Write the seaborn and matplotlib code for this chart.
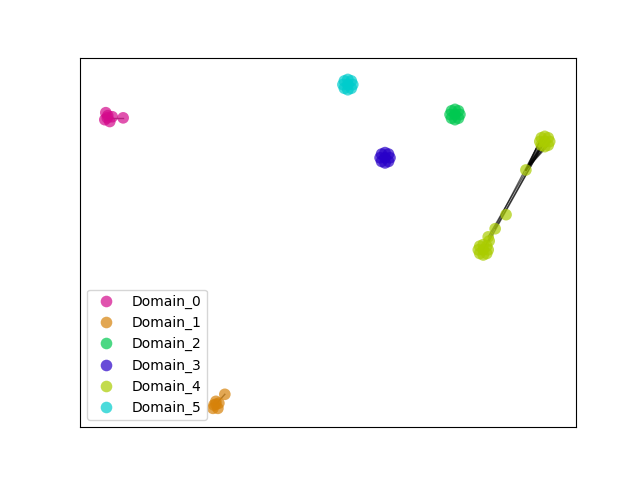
import matplotlib
matplotlib.use("Agg")
import matplotlib.pyplot as plt
import pandas as pd
import seaborn as sns

# node positions (layout units, 0-100)
d0_x = [5.2, 5.0, 6.0, 5.6, 6.5, 5.5, 8.7]
d0_y = [85.1, 83.2, 82.7, 84.3, 84.0, 83.7, 83.7]
d1_x = [27.0, 26.8, 27.8, 27.4, 28.0, 27.4, 29.2]
d1_y = [6.0, 5.1, 5.1, 7.0, 6.5, 6.2, 8.9]
d2_x = [75.6, 76.6, 76.3, 75.6, 74.9, 74.6, 74.9, 75.6, 76.3]
d2_y = [84.6, 84.6, 85.6, 86.0, 85.6, 84.6, 83.6, 83.2, 83.6]
d3_x = [61.5, 62.5, 62.2, 61.5, 60.8, 60.5, 60.8, 61.5, 62.2]
d3_y = [72.9, 72.9, 73.9, 74.3, 73.9, 72.9, 71.9, 71.5, 71.9]
d5_x = [54.0, 55.0, 54.7, 54.0, 53.3, 53.0, 53.3, 54.0, 54.7]
d5_y = [92.7, 92.7, 93.7, 94.1, 93.7, 92.7, 91.7, 91.3, 91.7]
d4_top_x = [93.7, 94.7, 94.4, 93.7, 93.0, 92.7, 93.0, 93.7, 94.4]
d4_top_y = [77.3, 77.3, 78.3, 78.7, 78.3, 77.3, 76.3, 75.9, 76.3]
d4_mid_x = [89.9, 85.9, 83.7, 82.3]
d4_mid_y = [69.6, 57.5, 53.7, 51.5]
d4_bot_x = [81.3, 82.3, 82.0, 81.3, 80.6, 80.3, 80.6, 81.3, 82.0, 82.5]
d4_bot_y = [48.0, 48.0, 49.0, 49.4, 49.0, 48.0, 47.0, 46.6, 47.0, 50.4]

domains = ["Domain_0", "Domain_1", "Domain_2", "Domain_3", "Domain_4", "Domain_5"]
colors = ["#d40a8c", "#d6820a", "#00c850", "#2800c8", "#aacc00", "#00cccc"]

d4_x = d4_top_x + d4_mid_x + d4_bot_x
d4_y = d4_top_y + d4_mid_y + d4_bot_y
xs = [d0_x, d1_x, d2_x, d3_x, d4_x, d5_x]
ys = [d0_y, d1_y, d2_y, d3_y, d4_y, d5_y]

rows = []
for name, gx, gy in zip(domains, xs, ys):
    for x, y in zip(gx, gy):
        rows.append({"x": x, "y": y, "domain": name})
nodes = pd.DataFrame(rows)

# edges: (x0, y0) -> (x1, y1)
edges = [((d0_x[5], d0_y[5]), (d0_x[6], d0_y[6])),
         ((d1_x[5], d1_y[5]), (d1_x[6], d1_y[6]))]
for i in range(len(d4_top_x)):
    edges.append(((d4_top_x[i], d4_top_y[i]), (d4_mid_x[0], d4_mid_y[0])))
edges.append(((d4_top_x[0], d4_top_y[0]), (d4_mid_x[2], d4_mid_y[2])))
edges.append(((d4_top_x[6], d4_top_y[6]), (d4_mid_x[3], d4_mid_y[3])))
edges.append(((d4_top_x[0], d4_top_y[0]), (d4_bot_x[9], d4_bot_y[9])))
edges.append(((d4_top_x[5], d4_top_y[5]), (d4_bot_x[0], d4_bot_y[0])))

fig, ax = plt.subplots(figsize=(6.4, 4.8), dpi=100)
for (x0, y0), (x1, y1) in edges:
    ax.plot([x0, x1], [y0, y1], color="black", alpha=0.6, linewidth=1, zorder=1)
sns.scatterplot(data=nodes, x="x", y="y", hue="domain", hue_order=domains,
                palette=dict(zip(domains, colors)), s=70, alpha=0.7,
                linewidth=0, zorder=2, ax=ax)

ax.set_xlim(0, 100)
ax.set_ylim(0, 100)
ax.set_xticks([])
ax.set_yticks([])
ax.set_xlabel("")
ax.set_ylabel("")
ax.legend(loc="lower left")
plt.savefig("out.png")
